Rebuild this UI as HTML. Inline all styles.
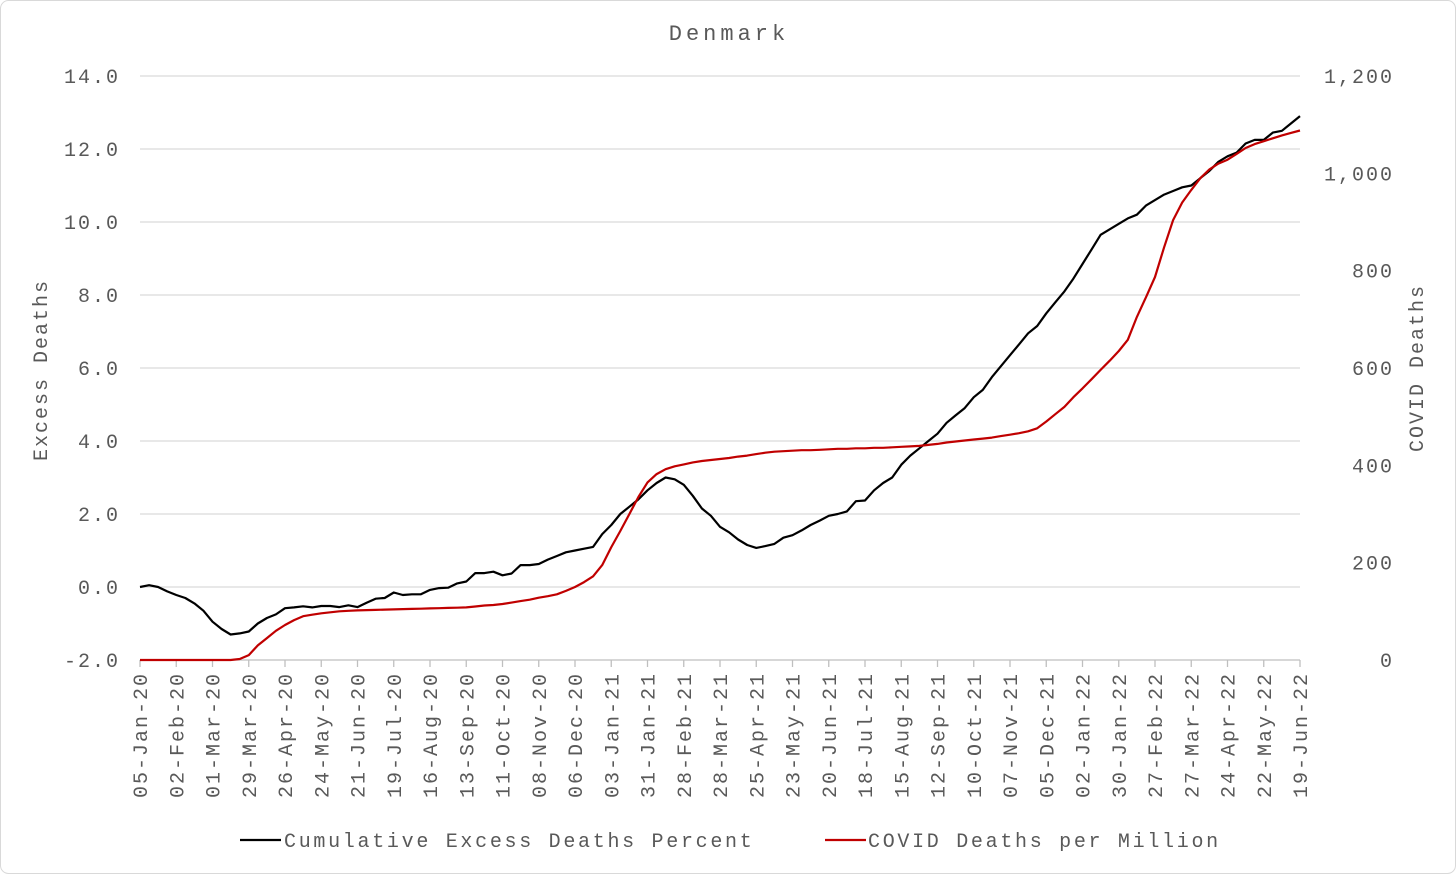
<!DOCTYPE html>
<html><head><meta charset="utf-8"><style>
html,body{margin:0;padding:0;background:#fff;}
svg{display:block;font-family:"Liberation Mono",monospace;}
</style></head><body>
<svg id="chart" width="1456" height="874" viewBox="0 0 1456 874" xmlns="http://www.w3.org/2000/svg">
<rect x="0.5" y="0.5" width="1455" height="873" rx="8" fill="#fff" stroke="#d9d9d9"/>
<text x="729" y="40" text-anchor="middle" font-size="22" letter-spacing="4" fill="#595959">Denmark</text>
<g id="grid"></g><g id="marks"></g><g id="labels"></g>
<text transform="translate(47,370) rotate(-90)" text-anchor="middle" font-size="20" letter-spacing="2" fill="#595959">Excess Deaths</text>
<text transform="translate(1423,368) rotate(-90)" text-anchor="middle" font-size="20" letter-spacing="2" fill="#595959">COVID Deaths</text>
<g>
<line x1="240" y1="840" x2="281" y2="840" stroke="#000" stroke-width="2.2"/>
<text x="284" y="847" font-size="20" letter-spacing="2.7" fill="#595959">Cumulative Excess Deaths Percent</text>
<line x1="825" y1="840" x2="866" y2="840" stroke="#c00000" stroke-width="2.2"/>
<text x="868" y="847" font-size="20" letter-spacing="2.7" fill="#595959">COVID Deaths per Million</text>
</g>
</svg>
<script>
const leftTicks = [-2,0,2,4,6,8,10,12,14];
const leftTickLabels = ["-2.0","0.0","2.0","4.0","6.0","8.0","10.0","12.0","14.0"];
const rightTicks = [0,200,400,600,800,1000,1200];
const rightTickLabels = ["0","200","400","600","800","1,000","1,200"];
const xTickLabels = ["05-Jan-20","02-Feb-20","01-Mar-20","29-Mar-20","26-Apr-20","24-May-20","21-Jun-20","19-Jul-20","16-Aug-20","13-Sep-20","11-Oct-20","08-Nov-20","06-Dec-20","03-Jan-21","31-Jan-21","28-Feb-21","28-Mar-21","25-Apr-21","23-May-21","20-Jun-21","18-Jul-21","15-Aug-21","12-Sep-21","10-Oct-21","07-Nov-21","05-Dec-21","02-Jan-22","30-Jan-22","27-Feb-22","27-Mar-22","24-Apr-22","22-May-22","19-Jun-22"];
const excessDeaths = [0,0.05,0,-0.12,-0.22,-0.3,-0.45,-0.65,-0.95,-1.15,-1.3,-1.27,-1.22,-1.0,-0.85,-0.75,-0.58,-0.56,-0.53,-0.56,-0.52,-0.52,-0.55,-0.5,-0.55,-0.43,-0.32,-0.3,-0.15,-0.22,-0.2,-0.2,-0.08,-0.03,-0.02,0.1,0.15,0.38,0.38,0.42,0.32,0.37,0.6,0.6,0.63,0.75,0.85,0.95,1.0,1.05,1.1,1.45,1.7,2.0,2.2,2.4,2.65,2.85,3.0,2.95,2.8,2.5,2.15,1.95,1.65,1.5,1.3,1.15,1.07,1.12,1.18,1.35,1.42,1.55,1.7,1.82,1.95,2.0,2.07,2.35,2.37,2.65,2.85,3.0,3.35,3.6,3.8,4.0,4.2,4.5,4.7,4.9,5.2,5.4,5.75,6.05,6.35,6.65,6.95,7.15,7.5,7.8,8.1,8.45,8.85,9.25,9.65,9.8,9.95,10.1,10.2,10.45,10.6,10.75,10.85,10.95,11.0,11.2,11.4,11.65,11.8,11.9,12.15,12.25,12.25,12.45,12.5,12.7,12.9];
const covidDeaths = [0,0,0,0,0,0,0,0,0,0,0,2,10,30,45,60,72,82,90,93,96,98,100,101,102,102.5,103,103.5,104,104.5,105,105.5,106,106.5,107,107.5,108,110,112,113,115,118,121,124,128,131,135,142,150,160,172,195,232,265,300,335,365,382,392,398,402,406,409,411,413,415,418,420,423,426,428,429,430,431,431,432,433,434,434,435,435,436,436,437,438,439,440,442,444,447,449,451,453,455,457,460,463,466,470,476,490,505,520,540,558,577,596,615,635,658,705,745,787,848,904,940,966,990,1008,1020,1028,1040,1052,1060,1066,1072,1078,1083,1088];

const NS="http://www.w3.org/2000/svg";
const X0=140,X1=1300,YT=76,YB=660;
const nW=covidDeaths.length-1;
const xS=i=>X0+(X1-X0)*i/nW;
const yL=v=>YB-(v-(-2))/(16)*(YB-YT);
const yR=v=>YB-v/1200*(YB-YT);
function mk(tag,attrs,parent){const e=document.createElementNS(NS,tag);for(const k in attrs)e.setAttribute(k,attrs[k]);parent.appendChild(e);return e;}
const grid=document.getElementById('grid'),marks=document.getElementById('marks'),labels=document.getElementById('labels');
leftTicks.forEach((t,i)=>{
  const y=yL(t);
  const g=mk('line',{x1:X0,x2:X1,y1:y,y2:y,stroke:i===0?'#bfbfbf':'#d9d9d9','stroke-width':1.3},grid);
  
  
  const tx=mk('text',{x:120,y:y+7,'text-anchor':'end','font-size':20,'letter-spacing':2,fill:'#595959'},labels);
  tx.textContent=leftTickLabels[i];
  
  
});
rightTicks.forEach((t,i)=>{
  const tx=mk('text',{x:1394,y:yR(t)+7,'text-anchor':'end','font-size':20,'letter-spacing':2,fill:'#595959'},labels);
  tx.textContent=rightTickLabels[i];
  
  
});
xTickLabels.forEach((lab,i)=>{
  const x=xS(i*4);
  const tk=mk('line',{x1:x,x2:x,y1:YB,y2:YB+7,stroke:'#bfbfbf','stroke-width':1.3},grid);
  
  
  const tx=mk('text',{transform:`translate(${x+7},672) rotate(-90)`,'text-anchor':'end','font-size':20,'letter-spacing':2,fill:'#595959'},labels);
  tx.textContent=lab;
  
  
});
const pE=excessDeaths.map((v,i)=>xS(i).toFixed(1)+','+yL(v).toFixed(1)).join(' ');
const lE=mk('polyline',{points:pE,fill:'none',stroke:'#000','stroke-width':2.2,'stroke-linejoin':'round'},marks);


const pC=covidDeaths.map((v,i)=>xS(i).toFixed(1)+','+yR(v).toFixed(1)).join(' ');
const lC=mk('polyline',{points:pC,fill:'none',stroke:'#c00000','stroke-width':2.2,'stroke-linejoin':'round'},marks);


</script>
</body></html>
